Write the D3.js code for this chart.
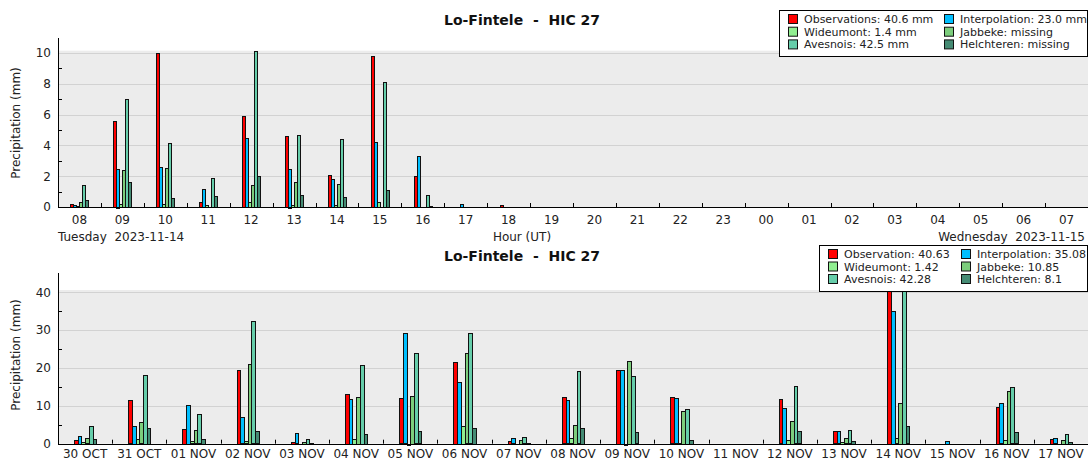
<!DOCTYPE html>
<html><head><meta charset="utf-8">
<script src="https://cdn.jsdelivr.net/npm/d3@7/dist/d3.min.js"></script>
<style>
body{margin:0;background:#fff;}
svg{display:block;font-family:"DejaVu Sans",sans-serif;}
</style></head><body>
<svg id="c" width="1088" height="464"></svg>
<script>
const seriesNames = ["Observation","Interpolation","Wideumont","Jabbeke","Avesnois","Helchteren"];
const seriesColors = ["#ff0000","#00bfff","#90ee90","#7ccd7c","#66cdaa","#458b74"];

const hours = ["08","09","10","11","12","13","14","15","16","17","18","19","20","21","22","23","00","01","02","03","04","05","06","07"];
const topObs    = [0.2,5.6,10.0,0.3,5.9,4.6,2.1,9.8,2.0,0,0.1,0,0,0,0,0,0,0,0,0,0,0,0,0];
const topInterp = [0.15,2.5,2.6,1.2,4.5,2.5,1.85,4.2,3.3,0.2,0,0,0,0,0,0,0,0,0,0,0,0,0,0];
const topWide   = [0.05,0.2,0.2,0.1,0.35,0.1,0.1,0.3,0,0,0,0,0,0,0,0,0,0,0,0,0,0,0,0];
const topJab    = [0.3,2.4,2.55,0,1.45,1.6,1.5,0,0,0,0,0,0,0,0,0,0,0,0,0,0,0,0,0];
const topAves   = [1.4,7.0,4.15,1.9,10.1,4.7,4.4,8.1,0.75,0,0,0,0,0,0,0,0,0,0,0,0,0,0,0];
const topHelch  = [0.45,1.65,0.6,0.7,2.0,0.75,0.65,1.1,0.05,0,0,0,0,0,0,0,0,0,0,0,0,0,0,0];
const topLegend = ["Observations: 40.6 mm","Interpolation: 23.0 mm","Wideumont: 1.4 mm","Jabbeke: missing","Avesnois: 42.5 mm","Helchteren: missing"];
const topYTicks = [0,2,4,6,8,10];
const topYMinor = [1,3,5,7,9];

const days = ["30 OCT","31 OCT","01 NOV","02 NOV","03 NOV","04 NOV","05 NOV","06 NOV","07 NOV","08 NOV","09 NOV","10 NOV","11 NOV","12 NOV","13 NOV","14 NOV","15 NOV","16 NOV","17 NOV"];
const botObs    = [1.0,11.45,3.95,19.6,0.5,13.2,12.0,21.6,0.7,12.25,19.6,12.25,0,11.7,3.25,40.63,0,9.8,1.25];
const botInterp = [2.0,4.75,10.2,6.95,2.7,11.8,29.15,16.4,1.4,11.45,19.6,12.0,0,9.5,3.25,35.08,0.7,10.65,1.4];
const botWide   = [0.5,1.25,0.6,0.6,0,1.25,-0.2,4.75,0,1.4,-0.2,0.25,0,1.0,0.5,1.42,0,1.0,0];
const botJab    = [1.4,5.65,3.5,21.1,0.5,12.3,12.7,23.85,1.0,4.95,21.9,8.7,0,6.0,1.4,10.85,0,13.9,0.97];
const botAves   = [4.75,18.15,7.75,32.3,1.25,20.9,23.85,29.15,1.7,19.1,17.9,9.15,0,15.15,3.5,42.28,0,14.9,2.55];
const botHelch  = [1.25,4.25,1.25,3.25,0.25,2.55,3.25,4.25,0.25,4.25,3.0,0.97,0,3.25,0.7,4.6,0,3.0,0.5];
const botLegend = ["Observation: 40.63","Interpolation: 35.08","Wideumont: 1.42","Jabbeke: 10.85","Avesnois: 42.28","Helchteren: 8.1"];
const botYTicks = [0,10,20,30,40];
const botYMinor = [5,15,25,35];

const title = "Lo-Fintele  -  HIC 27";

const svg = d3.select("#c");

function panel(cfg){
  const g = svg.append("g");
  const x = d3.scaleBand().domain(cfg.cats).range([58,1088]).paddingInner(0).paddingOuter(0);
  const y = d3.scaleLinear().domain([0,cfg.ymax]).range([cfg.base, cfg.base - cfg.pxPerUnit*cfg.ymax]);
  const top = y(cfg.ymax);
  const gw = x.bandwidth()*cfg.gf;
  const inner = d3.scaleBand().domain(seriesNames).range([0, gw]);
  const off = (x.bandwidth() - gw)/2;
  const clipId = "clip"+cfg.id;
  svg.append("clipPath").attr("id",clipId).append("rect")
    .attr("x",58).attr("y",top).attr("width",1030).attr("height",cfg.base - top + 6);
  // background
  g.append("rect").attr("x",58).attr("y",top).attr("width",1030).attr("height",cfg.base-top).attr("fill","#ececec");
  // gridlines
  g.selectAll(".grid").data(cfg.yticks.filter(d=>d>0)).join("line")
    .attr("x1",58).attr("x2",1088).attr("y1",d=>Math.round(y(d))+0.5).attr("y2",d=>Math.round(y(d))+0.5)
    .attr("stroke","#d2d2d2").attr("stroke-width",1);
  // bars
  const bars = [];
  cfg.series.forEach((arr,si)=>arr.forEach((v,ci)=>{ if(v!==0) bars.push({s:seriesNames[si],c:cfg.cats[ci],v,col:seriesColors[si]}); }));
  const bx = d => Math.round(x(d.c)+off+inner(d.s));
  const bw = d => Math.max(2, Math.round(x(d.c)+off+inner(d.s)+inner.bandwidth()) - bx(d));
  g.append("g").attr("clip-path","url(#"+clipId+")").selectAll("rect").data(bars).join("rect")
    .attr("x",d=>bx(d)+0.5)
    .attr("width",bw)
    .attr("y",d=>Math.round(Math.min(y(d.v),y(0)))+0.5)
    .attr("height",d=>Math.max(1,Math.round(Math.abs(y(d.v)-y(0)))))
    .attr("fill",d=>d.col).attr("stroke","#111").attr("stroke-width",1);
  // y axis line
  g.append("line").attr("x1",58.5).attr("x2",58.5).attr("y1",cfg.axisTop).attr("y2",cfg.base+0.5).attr("stroke","#000");
  // x axis line
  g.append("line").attr("x1",58).attr("x2",1088).attr("y1",Math.round(cfg.base)+0.5).attr("y2",Math.round(cfg.base)+0.5).attr("stroke","#000");
  // minor y ticks
  g.selectAll(".mt").data(cfg.yminor).join("line")
    .attr("x1",59).attr("x2",62).attr("y1",d=>Math.round(y(d))+0.5).attr("y2",d=>Math.round(y(d))+0.5).attr("stroke","#000");
  // x boundary ticks
  g.selectAll(".xt").data(cfg.cats.slice(1)).join("line")
    .attr("x1",d=>Math.round(x(d))+0.5).attr("x2",d=>Math.round(x(d))+0.5)
    .attr("y1",cfg.base-4).attr("y2",cfg.base).attr("stroke","#000");
  // y labels
  const ya = d3.axisLeft(y).tickValues(cfg.yticks).tickSize(0).tickPadding(7).tickFormat(d3.format("d"));
  const yag = g.append("g").attr("transform","translate(58,0)").call(ya);
  yag.select(".domain").remove();
  yag.selectAll("text").attr("font-size",12).attr("font-family","DejaVu Sans").attr("fill","#222");
  // x labels
  const xa = d3.axisBottom(x).tickSize(0).tickPadding(cfg.xpad);
  const xag = g.append("g").attr("transform","translate(0,"+cfg.base+")").call(xa);
  xag.select(".domain").remove();
  xag.selectAll("text").attr("font-size",12).attr("font-family","DejaVu Sans").attr("fill","#222");
  // y title
  g.append("text").attr("transform","translate(20,"+cfg.ytitleY+") rotate(-90)")
    .attr("text-anchor","middle").attr("font-size",12).attr("fill","#222").text("Precipitation (mm)");
  // title
  g.append("text").attr("x",522).attr("y",cfg.titleY).attr("text-anchor","middle")
    .attr("font-size",14).attr("font-weight","bold").attr("fill","#111").text(title);
  // legend
  const L = cfg.legend;
  const lg = g.append("g");
  lg.append("rect").attr("x",L.x+0.5).attr("y",L.y+0.5).attr("width",L.w).attr("height",L.h)
    .attr("fill","#fff").attr("stroke","#000");
  const items = lg.selectAll(".li").data(L.labels).join("g")
    .attr("transform",(d,i)=>"translate("+(L.x+9+(i%2)*L.colW)+","+(L.y+4+Math.floor(i/2)*L.rowH)+")");
  items.append("rect").attr("x",0.5).attr("y",0.5).attr("width",9).attr("height",9)
    .attr("fill",(d,i)=>seriesColors[i]).attr("stroke","#111");
  items.append("text").attr("x",16).attr("y",9).attr("font-size",11).attr("fill","#222").text(d=>d);
  return g;
}

panel({id:"t",cats:hours,series:[topObs,topInterp,topWide,topJab,topAves,topHelch],
  ymax:10.15,base:207,pxPerUnit:15.4,gf:0.42,yticks:topYTicks,yminor:topYMinor,axisTop:38,
  xpad:8,ytitleY:123,titleY:25,
  legend:{x:779,y:10,w:308,h:46,colW:156,rowH:12.7,labels:topLegend}});

panel({id:"b",cats:days,series:[botObs,botInterp,botWide,botJab,botAves,botHelch],
  ymax:40.6,base:443.7,pxPerUnit:3.785,gf:0.41,yticks:botYTicks,yminor:botYMinor,axisTop:273,
  xpad:6,ytitleY:355,titleY:261,
  legend:{x:819,y:245,w:268,h:46,colW:133,rowH:12.5,labels:botLegend}});

// top chart footer texts
svg.append("text").attr("x",58).attr("y",241).attr("font-size",12).attr("fill","#222").text("Tuesday  2023-11-14");
svg.append("text").attr("x",522).attr("y",241).attr("text-anchor","middle").attr("font-size",12).attr("fill","#222").text("Hour (UT)");
svg.append("text").attr("x",1085).attr("y",241).attr("text-anchor","end").attr("font-size",12).attr("fill","#222").text("Wednesday  2023-11-15");
svg.selectAll("text").style("white-space","pre");
</script>
</body></html>
